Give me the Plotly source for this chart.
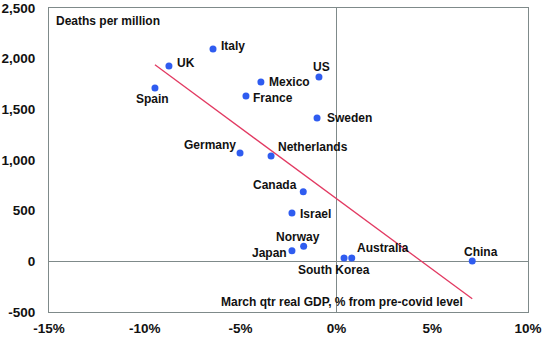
import numpy as np
import plotly.graph_objects as go

countries = ["Italy", "UK", "Spain", "Mexico", "France", "US", "Sweden", "Germany",
             "Netherlands", "Canada", "Israel", "Norway", "Japan", "South Korea",
             "Australia", "China"]
gdp_change = [-6.44, -8.74, -9.47, -3.94, -4.72, -0.91, -1.01, -5.03,
              -3.41, -1.73, -2.32, -1.71, -2.32, 0.40, 0.80, 7.09]
deaths_per_million = [2096, 1928, 1710, 1770, 1632, 1819, 1415, 1069,
                      1039, 687, 477, 148, 105, 33, 33, 3]

x_tick_values = [-15, -10, -5, 0, 5, 10]
x_tick_labels = ["-15%", "-10%", "-5%", "0%", "5%", "10%"]
y_tick_values = [-500, 0, 500, 1000, 1500, 2000, 2500]
y_tick_labels = ["-500", "0", "500", "1,000", "1,500", "2,000", "2,500"]

# label placement (anchor, xshift, yshift) in pixels
label_anchor = ["left", "left", "center", "left", "left", "center", "left", "right",
                "left", "right", "left", "center", "right", "center", "left", "center"]
label_dx = [6, 6, -2, 6, 5, 3, 8, -2, 5, -4, 6, -6, -3, -10, 3, 9]
label_dy = [3, 3, -11, 0, -2, 10, 0, 8, 9, 7, -1, 9, -2, -12, 10, 9]

FONT = "Liberation Sans, Arial, sans-serif"

x = np.array(gdp_change)
y = np.array(deaths_per_million)
slope, intercept = np.polyfit(x, y, 1)
tx = np.array([x.min(), x.max()])
ty = slope * tx + intercept

fig = go.Figure()
fig.add_trace(go.Scatter(x=tx, y=ty, mode="lines",
                         line=dict(color="#e23a62", width=1.3), hoverinfo="skip"))
fig.add_trace(go.Scatter(x=x, y=y, mode="markers",
                         marker=dict(color="#2f5cf0", size=7), text=countries))

for name, xv, yv, anc, dx, dy in zip(countries, gdp_change, deaths_per_million,
                                     label_anchor, label_dx, label_dy):
    fig.add_annotation(x=xv, y=yv, xref="x", yref="y", text="<b>%s</b>" % name,
                       showarrow=False, xanchor=anc, yanchor="middle",
                       xshift=dx, yshift=dy,
                       font=dict(family=FONT, size=12, color="#111111"))

fig.add_annotation(x=0, y=1, xref="paper", yref="paper", text="<b>Deaths per million</b>",
                   showarrow=False, xanchor="left", yanchor="top", xshift=5, yshift=-4,
                   font=dict(family=FONT, size=12, color="#111111"))
fig.add_annotation(x=0, y=-500, xref="x", yref="y",
                   text="<b>March qtr real GDP, % from pre-covid level</b>",
                   showarrow=False, xanchor="center", yanchor="bottom", xshift=6, yshift=1,
                   font=dict(family=FONT, size=12, color="#111111"))

fig.update_layout(
    width=548, height=339,
    margin=dict(l=49, r=20, t=8, b=27),
    plot_bgcolor="white", paper_bgcolor="white",
    showlegend=False,
    font=dict(family=FONT, size=13, color="#111111"),
)
fig.update_xaxes(range=[-15, 10], tickmode="array", tickvals=x_tick_values,
                 ticktext=["<b>%s</b>" % t for t in x_tick_labels],
                 showgrid=False, automargin=False, ticklabelstandoff=4,
                 zeroline=True, zerolinecolor="#7f8a8a", zerolinewidth=1,
                 showline=True, linecolor="#7f8a8a", linewidth=1, mirror=True,
                 ticks="", tickfont=dict(family=FONT, size=13.5, color="#111111"))
fig.update_yaxes(range=[-500, 2500], tickmode="array", tickvals=y_tick_values,
                 ticktext=["<b>%s</b>" % t for t in y_tick_labels],
                 showgrid=False, automargin=False, ticklabelstandoff=10,
                 zeroline=True, zerolinecolor="#7f8a8a", zerolinewidth=1,
                 showline=True, linecolor="#7f8a8a", linewidth=1, mirror=True,
                 ticks="", tickfont=dict(family=FONT, size=13.5, color="#111111"))

fig.write_html("out.html")
